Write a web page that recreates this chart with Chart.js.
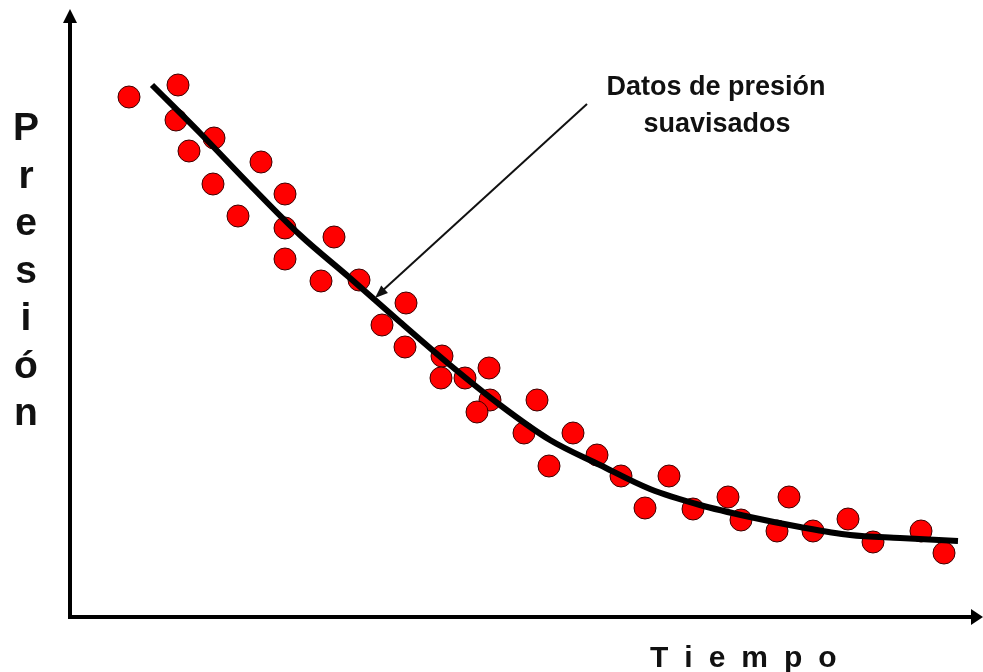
<!DOCTYPE html>
<html>
<head>
<meta charset="utf-8">
<script src="https://cdn.jsdelivr.net/npm/chart.js@4"></script>
<style>
  html, body { margin: 0; padding: 0; background: #fff; }
  canvas { display: block; }
</style>
</head>
<body>
<canvas id="presionCanvas" width="983" height="672"></canvas>
<script>
const tiempo = [5.9, 10.8, 10.6, 11.9, 14.4, 14.3, 19.1, 16.8, 21.5, 21.5, 21.5, 26.4, 25.1, 28.9,
  33.6, 31.2, 33.5, 37.2, 37.1, 39.5, 41.9, 42.0, 40.7, 46.7, 45.4, 50.3, 47.9, 52.7, 55.1, 59.9,
  57.5, 62.3, 65.8, 67.1, 71.9, 70.7, 74.3, 77.8, 80.3, 85.1, 87.4];
const presion = [52.0, 53.2, 49.7, 46.6, 47.9, 43.3, 45.5, 40.1, 42.3, 38.9, 35.8, 38.0, 33.6, 33.7,
  31.4, 29.2, 27.0, 26.1, 23.9, 23.9, 24.9, 21.7, 20.5, 21.7, 18.4, 18.4, 15.1, 16.2, 14.1, 14.1,
  10.9, 10.8, 12.0, 9.7, 12.0, 8.6, 8.6, 9.8, 7.5, 8.6, 6.4];

// Smoothed curve
const suaveT = [8.2, 13, 18, 23, 28, 33, 38, 43, 48, 53, 58, 63, 68, 73, 78, 83, 88.8];
const suaveP = [53.2, 48.4, 43.2, 38.2, 33.9, 29.5, 25.2, 21.2, 17.7, 15.2, 12.8, 11.2, 10.0, 9.0, 8.2, 7.9, 7.6];

const etiquetaY = 'Presión';
const etiquetaX = 'Tiempo';
const nota = ['Datos de presión', 'suavisados'];

const FONT = '"Liberation Sans", Arial, sans-serif';

function arrowHead(ctx, tipX, tipY, angle, len, half) {
  ctx.save();
  ctx.translate(tipX, tipY);
  ctx.rotate(angle);
  ctx.beginPath();
  ctx.moveTo(0, 0);
  ctx.lineTo(-len, -half);
  ctx.lineTo(-len, half);
  ctx.closePath();
  ctx.fill();
  ctx.restore();
}

// draws a word one letter at a time with a gap between letters
function spacedText(ctx, text, x, y, gap) {
  for (const ch of text) {
    ctx.fillText(ch, x, y);
    x += ctx.measureText(ch).width + gap;
  }
}

const decoraciones = {
  id: 'decoraciones',
  beforeDatasetsDraw(chart) {
    const { ctx, chartArea: a } = chart;
    ctx.save();
    ctx.strokeStyle = '#000';
    ctx.fillStyle = '#000';
    ctx.lineWidth = 4;
    // y axis with arrow
    ctx.beginPath();
    ctx.moveTo(a.left, a.bottom + 2);
    ctx.lineTo(a.left, a.top + 2);
    ctx.stroke();
    arrowHead(ctx, a.left, a.top - 8, -Math.PI / 2, 14, 7);
    // x axis with arrow
    ctx.beginPath();
    ctx.moveTo(a.left - 2, a.bottom);
    ctx.lineTo(a.right - 6, a.bottom);
    ctx.stroke();
    arrowHead(ctx, a.right + 3, a.bottom, 0, 12, 8);
    ctx.restore();
  },
  afterDraw(chart) {
    const { ctx, scales } = chart;
    ctx.save();
    ctx.fillStyle = '#111';

    // vertical axis label, letter by letter
    ctx.font = `bold 39px ${FONT}`;
    ctx.textAlign = 'center';
    ctx.textBaseline = 'alphabetic';
    [...etiquetaY].forEach((ch, i) => ctx.fillText(ch, 26, 140 + i * 47.5));

    // horizontal axis label
    ctx.font = `bold 30px ${FONT}`;
    ctx.textAlign = 'left';
    spacedText(ctx, etiquetaX, 650, 667, 16);

    // annotation
    ctx.font = `bold 27px ${FONT}`;
    ctx.textAlign = 'center';
    ctx.fillText(nota[0], 716, 95);
    ctx.fillText(nota[1], 717, 132);

    // pointer towards the smoothed curve
    const tipX = scales.x.getPixelForValue(30.5);
    const tipY = scales.y.getPixelForValue(31.9);
    const fromX = 587, fromY = 104;
    ctx.strokeStyle = '#111';
    ctx.lineWidth = 2;
    ctx.beginPath();
    ctx.moveTo(fromX, fromY);
    ctx.lineTo(tipX + 6, tipY - 6);
    ctx.stroke();
    arrowHead(ctx, tipX, tipY, Math.atan2(tipY - fromY, tipX - fromX), 13, 5);
    ctx.restore();
  }
};

new Chart(document.getElementById('presionCanvas'), {
  type: 'scatter',
  data: {
    datasets: [
      {
        label: 'Datos',
        data: tiempo.map((t, i) => ({ x: t, y: presion[i] })),
        backgroundColor: '#ff0000',
        borderColor: '#3a0000',
        borderWidth: 1,
        pointRadius: 11,
        pointHoverRadius: 11,
        order: 2,
        clip: false,
      },
      {
        label: 'Suavisados',
        type: 'line',
        data: suaveT.map((t, i) => ({ x: t, y: suaveP[i] })),
        borderColor: '#000',
        borderWidth: 6,
        pointRadius: 0,
        tension: 0.4,
        cubicInterpolationMode: 'monotone',
        fill: false,
        order: 1,
        clip: false,
      },
    ],
  },
  options: {
    responsive: false,
    animation: false,
    events: [],
    layout: { autoPadding: false, padding: { left: 70, right: 3, top: 17, bottom: 55 } },
    plugins: {
      legend: { display: false },
      tooltip: { enabled: false },
    },
    scales: {
      x: { type: 'linear', min: 0, max: 91, display: false },
      y: { type: 'linear', min: 0, max: 60, display: false },
    },
  },
  plugins: [decoraciones],
});
</script>
</body>
</html>
